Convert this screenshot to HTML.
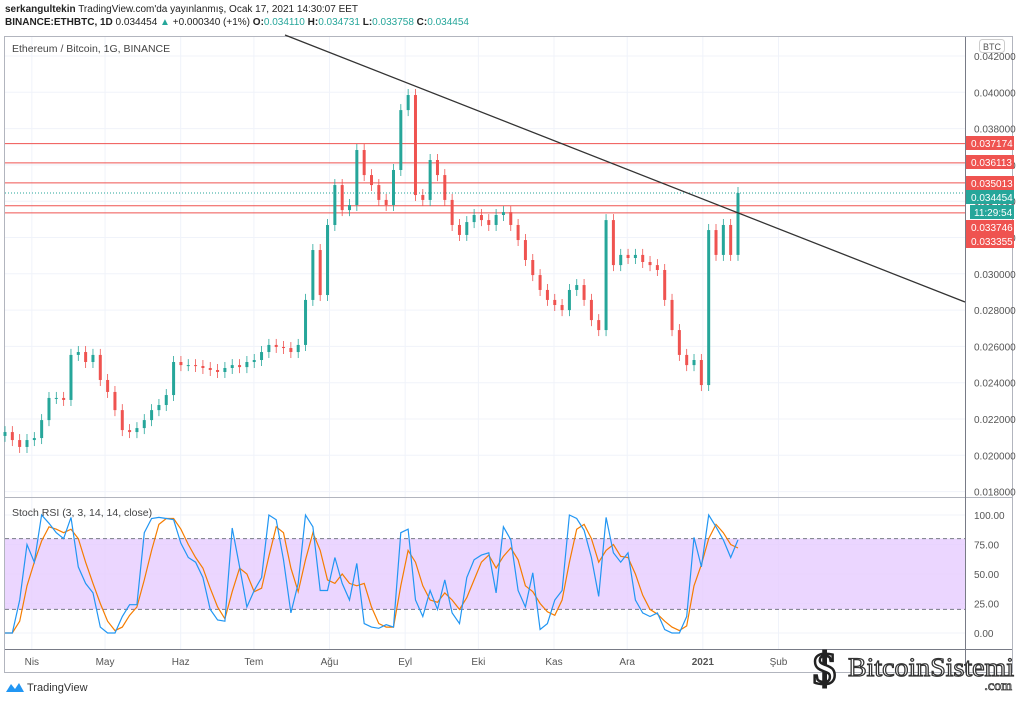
<!DOCTYPE html>
<html><head><meta charset="utf-8">
<style>
html,body{margin:0;padding:0;background:#fff;width:1024px;height:702px;overflow:hidden;font-family:"Liberation Sans",sans-serif;}
#hdr1{position:absolute;left:5px;top:4px;font-size:10px;color:#222;}
#hdr2{position:absolute;left:5px;top:17px;font-size:10px;color:#222;}
.g{color:#26a69a}
svg{position:absolute;left:0;top:0}
</style></head><body>
<div id="hdr1"><b>serkangultekin</b> TradingView.com'da yayınlanmış, Ocak 17, 2021 14:30:07 EET</div>
<div id="hdr2"><b>BINANCE:ETHBTC, 1D</b> 0.034454 <span class="g">▲</span> +0.000340 (+1%) <b>O:</b><span class="g">0.034110</span> <b>H:</b><span class="g">0.034731</span> <b>L:</b><span class="g">0.033758</span> <b>C:</b><span class="g">0.034454</span></div>
<svg id="c" width="1024" height="702" xmlns="http://www.w3.org/2000/svg"></svg>
<script>
const closes=[.02128,.02084,.02046,.02084,.02095,.02194,.02316,.02316,.02305,.02553,.02569,.02514,.02553,.02415,.02349,.02249,.02139,.02128,.02150,.02194,.02249,.02277,.02332,.02514,.02497,.02497,.02492,.02481,.02470,.02459,.02481,.02497,.02486,.02514,.02525,.02569,.02608,.02597,.02591,.02569,.02608,
.02856,.03131,.02883,.03269,.03489,.03351,.03379,.03682,.03544,.03489,.03407,.03379,.03572,.03902,.03985,.03434,.03407,.03627,.03544,.03407,.03269,.03214,.03285,.03324,.03296,.03269,.03324,.03340,.03269,.03186,.03076,.02993,.02911,.02856,.02828,.02800,.02911,.02938,.02856,.02745,.02690,.03296,.03048,.03104,.03087,.03104,.03065,.03048,.03021,.02856,.02690,.02553,.02497,.02525,.02387,.03241,.03104,.03269,.03104,.034454];
const stochK=[0,0,28,75,60,100,93,85,80,98,56,42,34,5,0,0,14,24,24,85,97,98,97,96,76,64,60,47,20,11,10,89,56,22,36,47,100,96,62,17,42,100,90,36,36,64,42,28,59,8,5,
4,7,5,85,88,28,14,36,20,45,17,8,47,62,66,68,34,90,79,36,22,51,3,8,28,36,100,97,87,64,31,98,68,60,68,28,17,14,17,3,0,0,14,81,56,100,90,79,64,79];
const stochD=[0,0,10,40,60,78,90,88,85,88,80,60,42,25,10,2,5,15,22,45,70,92,97,97,88,75,64,55,38,22,12,35,55,50,35,38,65,90,85,55,35,62,85,70,45,42,50,42,40,42,22,
8,5,5,40,70,60,40,28,26,34,28,20,30,45,60,66,55,65,72,62,40,35,25,18,15,28,60,88,92,80,60,70,75,65,64,50,32,20,16,10,5,2,6,40,58,80,92,85,75,72];
const priceTicks=[0.042,0.040,0.038,0.036,0.034,0.032,0.030,0.028,0.026,0.024,0.022,0.020,0.018];
const levels=[0.037174,0.036113,0.035013,0.033746,0.033355];
const lastPrice=0.034454;
const stochTicks=[100,75,50,25,0];
const months=["Nis","May","Haz","Tem","Ağu","Eyl","Eki","Kas","Ara","2021","Şub"];
const monthDays=[11,41,72,102,133,164,194,225,255,286,317];
// axis tag stacking (layout, not data)
const levelTagY=[143,162,183,227,241];
const lastTagY=197, clockTagY=212;

const svg=document.getElementById('c');
const NS='http://www.w3.org/2000/svg';
function mk(t,a,p){const e=document.createElementNS(NS,t);for(const k in a)e.setAttribute(k,a[k]);(p||svg).appendChild(e);return e;}
const R=965;
const py=p=>56+(0.042-p)/0.002*36.3;
const sy=v=>633-v*1.18;
const cx=i=>5+i*7.33;
const dx=d=>5+d*2.44;

let e=mk('rect',{x:4.5,y:36.5,width:1008,height:636,fill:'none',stroke:'#b2b5be'});

priceTicks.forEach(p=>{const l=mk('line',{x1:5,x2:R,y1:py(p),y2:py(p),stroke:'#f0f3fa'});
});
stochTicks.forEach(v=>{const l=mk('line',{x1:5,x2:R,y1:sy(v),y2:sy(v),stroke:'#f0f3fa'});
});
monthDays.forEach(d=>{const l=mk('line',{x1:dx(d),x2:dx(d),y1:37,y2:649,stroke:'#f0f3fa'});
});
e=mk('rect',{x:5,y:sy(80),width:R-5,height:sy(20)-sy(80),fill:'#e6ccff',opacity:0.8});

[80,20].forEach(v=>{const l=mk('line',{x1:5,x2:R,y1:sy(v),y2:sy(v),stroke:'#787b86','stroke-dasharray':'4,3'});
});
e=mk('line',{x1:5,x2:1012,y1:497.5,y2:497.5,stroke:'#b2b5be'});
e=mk('line',{x1:5,x2:1012,y1:649.5,y2:649.5,stroke:'#787b86'});
e=mk('line',{x1:R+.5,x2:R+.5,y1:37,y2:672,stroke:'#787b86'});
levels.forEach(p=>{const l=mk('line',{x1:5,x2:R,y1:py(p),y2:py(p),stroke:'#ef5350','stroke-width':1});
});
e=mk('line',{x1:5,x2:R,y1:py(lastPrice),y2:py(lastPrice),stroke:'#26a69a','stroke-dasharray':'1,2'});

closes.forEach((c,i)=>{
 const o=i?closes[i-1]:c*0.99;const up=c>=o;const col=up?'#26a69a':'#ef5350';
 const x=cx(i);const y1=py(Math.max(o,c)),y2=py(Math.min(o,c));
 const w=mk('line',{x1:x,x2:x,y1:y1-6,y2:y2+6,stroke:col,'stroke-width':0.8});
 
 const b=mk('rect',{x:x-1.5,y:y1,width:3,height:Math.max(1,y2-y1),fill:col});
 
});
e=mk('line',{x1:285,y1:35,x2:965,y2:302,stroke:'#333','stroke-width':1.3});

function path(arr,col,name){const d=arr.map((v,i)=>(i?'L':'M')+cx(i).toFixed(1)+','+sy(v).toFixed(1)).join('');
 const p=mk('path',{d:d,fill:'none',stroke:col,'stroke-width':1.2});}
path(stochD,'#f57c00','stoch-d-line');
path(stochK,'#2196f3','stoch-k-line');
function txt(x,y,s,a){const t=mk('text',Object.assign({x:x,y:y,'font-size':10,fill:'#555','font-family':'Liberation Sans, sans-serif'},a||{}));t.textContent=s;return t;}
priceTicks.forEach(p=>{const t=txt(974,py(p)+4,p.toFixed(6));});
stochTicks.forEach(v=>{const t=txt(974,sy(v)+4,v.toFixed(2));});
months.forEach((m,i)=>{const t=txt(dx(monthDays[i]),665,m,{'text-anchor':'middle','font-weight':m==='2021'?'bold':'normal'});});
levels.forEach((p,i)=>{const ty=levelTagY[i];
 const r=mk('rect',{x:966,y:ty-7,width:48,height:14,fill:'#ef5350'});
 const t=txt(971,ty+4,p.toFixed(6),{fill:'#fff'});});
e=mk('rect',{x:966,y:lastTagY-7,width:48,height:14,fill:'#26a69a'});
e=txt(971,lastTagY+4,lastPrice.toFixed(6),{fill:'#fff'});
e=mk('rect',{x:970,y:clockTagY-7,width:44,height:14,fill:'#26a69a'});
e=txt(974,clockTagY+4,'11:29:54',{fill:'#fff'});
e=mk('rect',{x:979.5,y:39.5,width:25,height:13,rx:3,fill:'#fff',stroke:'#ccc'});
e=txt(992,50,'BTC',{'text-anchor':'middle','font-size':9});
e=txt(12,52,'Ethereum / Bitcoin, 1G, BINANCE',{'font-size':10.5,fill:'#444'});
e=txt(12,516,'Stoch RSI (3, 3, 14, 14, close)',{'font-size':10.5,fill:'#444'});
e=mk('path',{d:'M6,692 L11,684 L15,689 L19,683 L24,692 Z',fill:'#2196f3'});
e=txt(27,691,'TradingView',{'font-size':11,fill:'#333'});
e=txt(813,684,'$',{'font-size':46,'font-family':'Liberation Serif, serif',fill:'#fff',stroke:'#222','stroke-width':2.5,'font-weight':'bold'});
e=txt(848,676,'BitcoinSistemi',{'font-size':26,'font-family':'Liberation Serif, serif',fill:'#fff',stroke:'#333','stroke-width':1.2,textLength:166,lengthAdjust:'spacingAndGlyphs'});
e=txt(1012,690,'.com',{'font-size':14,'font-family':'Liberation Serif, serif','text-anchor':'end',fill:'#fff',stroke:'#333','stroke-width':0.8});
</script>
</body></html>
